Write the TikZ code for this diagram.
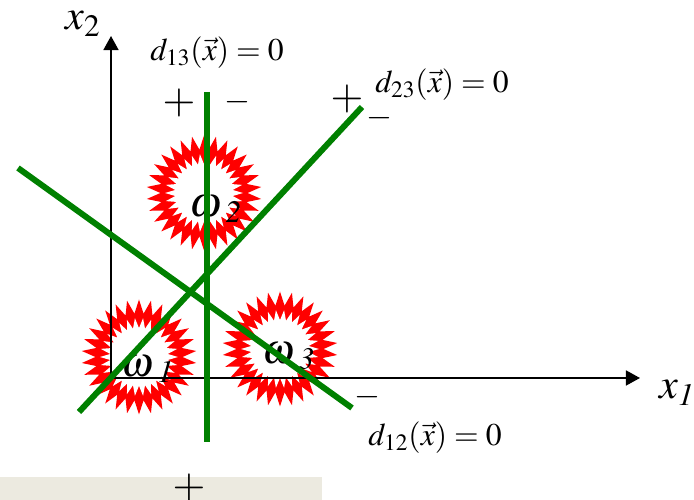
\documentclass[tikz,border=0pt]{standalone}
\usepackage{amsmath}
\usepackage{mathptmx}
\usepackage{tikz}
\usetikzlibrary{shapes.geometric, arrows.meta, positioning}
\definecolor{lingreen}{RGB}{0,128,0}
\definecolor{burstred}{RGB}{255,0,0}
\definecolor{panelgrey}{RGB}{236,234,224}
\tikzset{
  burst/.style={star, star points=30, star point ratio=1.32, fill=burstred,
    draw=none, minimum size=2.3cm, inner sep=0pt},
  hole/.style={star, star points=30, star point ratio=1.35, fill=white,
    draw=none, minimum size=1.56cm, inner sep=0pt, rotate=6},
  decline/.style={line width=3.4pt, color=lingreen},
  axis/.style={-{Triangle[length=8pt, width=8.5pt]}, line width=1.1pt, color=black},
  axlabel/.style={font=\fontsize{24}{26}\selectfont, inner sep=1pt},
  wlabel/.style={font=\fontsize{24}{26}\selectfont, inner sep=1pt},
  dlabel/.style={font=\fontsize{18}{20}\selectfont, inner sep=1pt},
  sign/.style={font=\fontsize{24}{26}\selectfont, inner sep=0pt},
  minus/.style={font=\fontsize{19}{21}\selectfont, inner sep=0pt}
}
\begin{document}
\begin{tikzpicture}
  \useasboundingbox (0,0) rectangle (13.88,10);
  % Panel at the bottom
  \fill[panelgrey] (0,0) rectangle (6.44,0.46);

  % Classes
  \foreach \n/\x/\y in {1/2.78/2.86, 2/4.08/6.14, 3/5.60/3.02} {
     \node[burst] (b\n) at (\x,\y) {};
     \node[hole] (h\n) at (b\n) {};
  }
  \node[wlabel] (w1) at (2.96,2.62) {$\omega_{\;\mathit{1}}$};
  \node[wlabel] (w2) at (4.32,5.82) {$\omega_{\;\mathit{2}}$};
  \node[wlabel] (w3) at (5.78,2.88) {$\omega_{\;\mathit{3}}$};

  % Axes
  \coordinate (O) at (2.22,2.44);
  \coordinate (x1tip) at (12.80,2.44);
  \coordinate (x2tip) at (2.22,9.28);
  \draw[axis] (O) -- (x1tip);
  \draw[axis] (O) -- (x2tip);
  \node[axlabel] (x1) at (13.54,2.14) {$x_{\mathit{1}}$};
  \node[axlabel] (x2) at (1.66,9.52) {$x_2$};

  % Decision lines
  \coordinate (d13a) at (4.14,8.16);
  \coordinate (d13b) at (4.14,1.16);
  \coordinate (d23a) at (1.58,1.76);
  \coordinate (d23b) at (7.24,7.86);
  \coordinate (d12a) at (0.36,6.64);
  \coordinate (d12b) at (7.04,1.84);
  \draw[decline] (d13a) -- (d13b);
  \draw[decline] (d23a) -- (d23b);
  \draw[decline] (d12a) -- (d12b);
  \node[dlabel] (l13) at (4.34,8.94) {$d_{13}(\vec{x})=0$};
  \node[dlabel] (l23) at (8.84,8.30) {$d_{23}(\vec{x})=0$};
  \node[dlabel] (l12) at (8.70,1.24) {$d_{12}(\vec{x})=0$};

  % Signs
  \node[sign] (p13) at (3.58,7.94) {$+$};
  \node[minus] (m13) at (4.74,7.96) {$-$};
  \node[sign] (p23) at (6.94,8.02) {$+$};
  \node[minus] (m23) at (7.58,7.64) {$-$};
  \node[minus] (m12) at (7.34,2.06) {$-$};
  \node[sign] (p12) at (3.78,0.24) {$+$};
\end{tikzpicture}
\end{document}
